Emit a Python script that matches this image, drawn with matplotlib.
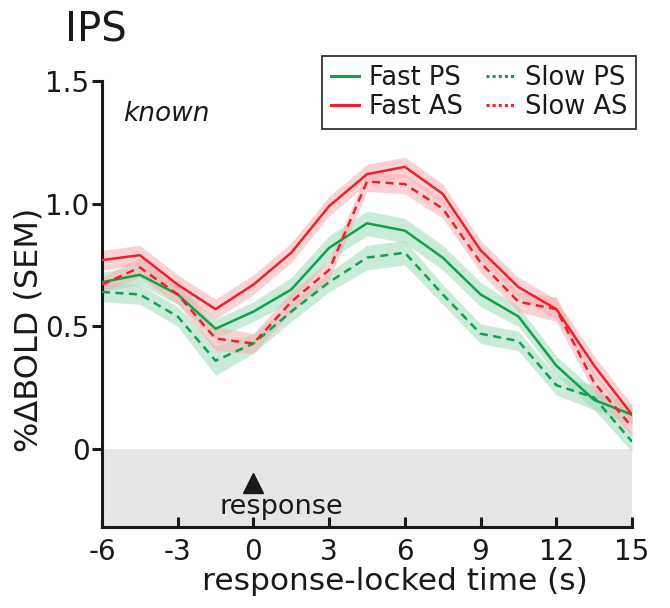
import matplotlib
matplotlib.use("Agg")
import matplotlib.pyplot as plt
from matplotlib.lines import Line2D
import numpy as np

# ---- data ----
time_s = [-6, -4.5, -3, -1.5, 0, 1.5, 3, 4.5, 6, 7.5, 9, 10.5, 12, 13.5, 15]
fast_ps = [0.68, 0.71, 0.63, 0.49, 0.56, 0.65, 0.82, 0.92, 0.89, 0.78, 0.63, 0.54, 0.34, 0.20, 0.14]
fast_ps_sem = [0.04, 0.04, 0.04, 0.04, 0.04, 0.05, 0.05, 0.05, 0.05, 0.05, 0.05, 0.04, 0.04, 0.04, 0.04]
slow_ps = [0.64, 0.63, 0.54, 0.36, 0.43, 0.56, 0.68, 0.78, 0.80, 0.63, 0.47, 0.44, 0.26, 0.21, 0.03]
slow_ps_sem = [0.04, 0.04, 0.04, 0.06, 0.04, 0.04, 0.04, 0.05, 0.05, 0.04, 0.04, 0.04, 0.04, 0.05, 0.04]
fast_as = [0.77, 0.79, 0.67, 0.57, 0.67, 0.80, 0.99, 1.12, 1.15, 1.04, 0.81, 0.66, 0.57, 0.34, 0.14]
fast_as_sem = [0.04, 0.04, 0.04, 0.04, 0.04, 0.04, 0.04, 0.04, 0.04, 0.04, 0.04, 0.04, 0.04, 0.04, 0.04]
slow_as = [0.67, 0.74, 0.63, 0.45, 0.43, 0.60, 0.73, 1.09, 1.08, 0.98, 0.76, 0.60, 0.57, 0.27, 0.09]
slow_as_sem = [0.03, 0.04, 0.04, 0.05, 0.04, 0.04, 0.04, 0.04, 0.04, 0.04, 0.04, 0.04, 0.05, 0.04, 0.04]

x_ticks = [-6, -3, 0, 3, 6, 9, 12, 15]
y_ticks = [0, 0.5, 1.0, 1.5]
y_tick_labels = ["0", "0.5", "1.0", "1.5"]

GREEN = "#12a04c"
RED = "#e8232b"
GREEN_BAND = "#9fdcbc"
RED_BAND = "#f7aeb0"
TXT = "#1a1a1a"

plt.rcParams["font.family"] = ["DejaVu Sans"]

fig = plt.figure(figsize=(6.70, 6.08), dpi=100)
ax = fig.add_axes([0.1522, 0.1332, 0.7911, 0.7336])

ymin, ymax = -0.318, 1.5
ax.set_xlim(-6, 15)
ax.set_ylim(ymin, ymax)

ax.axhspan(ymin, 0, color="#e6e6e6", zorder=0, lw=0)

t = np.array(time_s)
series = [
    (fast_ps, fast_ps_sem, GREEN, GREEN_BAND, "-"),
    (slow_ps, slow_ps_sem, GREEN, GREEN_BAND, (0, (3.2, 2.2))),
    (fast_as, fast_as_sem, RED, RED_BAND, "-"),
    (slow_as, slow_as_sem, RED, RED_BAND, (0, (3.2, 2.2))),
]
for vals, sem, c, bc, ls in series:
    v = np.array(vals); s = np.array(sem)
    ax.fill_between(t, v - s, v + s, color=bc, alpha=0.55, lw=0, zorder=1)
for vals, sem, c, bc, ls in series:
    ax.plot(t, vals, color=c, lw=1.8, ls=ls, zorder=3)

for side in ["top", "right"]:
    ax.spines[side].set_visible(False)
for side in ["left", "bottom"]:
    ax.spines[side].set_linewidth(2.2)
    ax.spines[side].set_color(TXT)

ax.set_xticks(x_ticks)
ax.set_xticklabels([str(v) for v in x_ticks])
ax.set_yticks(y_ticks)
ax.set_yticklabels(y_tick_labels)
ax.tick_params(axis="x", direction="in", length=7, width=2.2, labelsize=20, pad=8,
               color=TXT, labelcolor=TXT)
ax.tick_params(axis="y", direction="out", length=7, width=2.2, labelsize=20, pad=2,
               color=TXT, labelcolor=TXT)

ax.set_xlabel("response-locked time (s)", fontsize=22.5, color=TXT)
ax.xaxis.set_label_coords(0.553, -0.09)
ax.set_ylabel("%ΔBOLD (SEM)", fontsize=23, color=TXT)
ax.yaxis.set_label_coords(-0.108, 0.442)

ax.text(-5.17, 1.335, "known", fontsize=19, style="italic", va="baseline", ha="left", color=TXT)

ax.plot([0], [-0.14], marker="^", color=TXT, markersize=15, clip_on=False, zorder=4)
ax.text(1.1, -0.235, "response", fontsize=19.5, ha="center", va="center", zorder=4, color=TXT)

fig.text(0.097, 0.931, "IPS", fontsize=29, ha="left", va="baseline", color=TXT)

handles = [
    Line2D([], [], color=GREEN, lw=2.2, ls="-"),
    Line2D([], [], color=RED, lw=2.2, ls="-"),
    Line2D([], [], color=GREEN, lw=2.2, ls=(0, (1, 1))),
    Line2D([], [], color=RED, lw=2.2, ls=(0, (1, 1))),
]
labels = ["Fast PS", "Fast AS", "Slow PS", "Slow AS"]
leg = fig.legend(handles, labels, loc="upper right", bbox_to_anchor=(636 / 670, 1 - 56 / 608),
                 ncol=2, fontsize=18.5, frameon=True, fancybox=False, edgecolor="black",
                 handlelength=1.1, handletextpad=0.4, columnspacing=0.9,
                 labelspacing=0.1, borderpad=0.35, borderaxespad=0)
leg.get_frame().set_linewidth(1.3)
for txt in leg.get_texts():
    txt.set_color(TXT)

fig.savefig("out.png", dpi=100)
